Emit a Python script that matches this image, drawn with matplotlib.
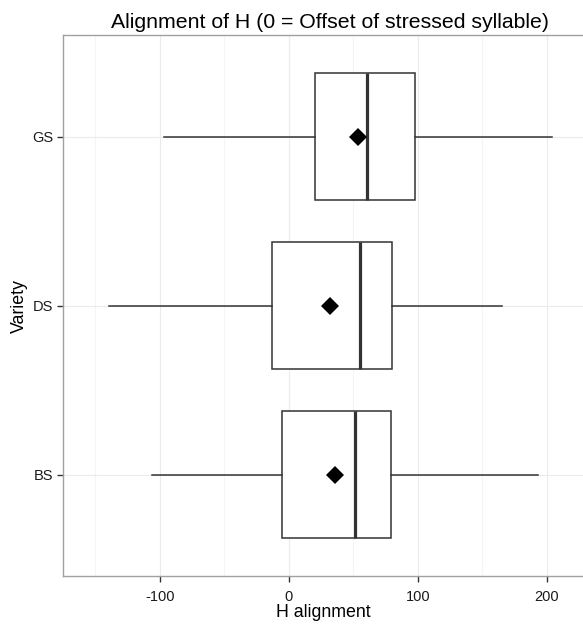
import matplotlib.pyplot as plt
from matplotlib.ticker import FixedLocator

plt.rcParams['font.family'] = ['Liberation Sans', 'DejaVu Sans']

# -----------------------
# Data
# -----------------------
varieties = ["BS", "DS", "GS"]
whisker_lo = [-106, -139, -97]
q1 = [-5, -13, 20]
median = [51, 55, 61]
q3 = [79, 80, 98]
whisker_hi = [193, 165, 204]
means = [36, 32, 54]

# -----------------------
# Figure
# -----------------------
fig = plt.figure(figsize=(5.83, 6.25), dpi=100)
ax = fig.add_axes([63.3 / 583, (625 - 576) / 625, 1 - 63.3 / 583, (576 - 35.3) / 625])

line_col = "#333333"
pos = list(range(1, len(varieties) + 1))

stats = []
for i, v in enumerate(varieties):
    stats.append({"label": v, "whislo": whisker_lo[i], "q1": q1[i], "med": median[i],
                  "q3": q3[i], "whishi": whisker_hi[i], "fliers": []})

ax.bxp(stats, positions=pos, widths=0.75, vert=False, showcaps=False,
       patch_artist=True, zorder=3,
       boxprops=dict(facecolor="white", edgecolor=line_col, linewidth=1.1),
       whiskerprops=dict(color=line_col, linewidth=1.1),
       medianprops=dict(color=line_col, linewidth=2.3, solid_capstyle="butt"))

ax.plot(means, pos, linestyle="none", marker="D", markersize=9.6,
        markerfacecolor="black", markeredgewidth=0, zorder=4)

ax.set_xlim(-174.8, (583 - 288.8) / 1.29)
ax.set_ylim(0.4, 3.6)
ax.set_yticks(pos)
ax.set_yticklabels(varieties)
ax.set_xticks([-100, 0, 100, 200])
ax.set_xticklabels(["-100", "0", "100", "200"])
ax.xaxis.set_minor_locator(FixedLocator([-150, -50, 50, 150, 250]))

ax.grid(True, which="major", color="#ebebeb", linewidth=0.8, zorder=0)
ax.grid(True, which="minor", axis="x", color="#f5f5f5", linewidth=0.8, zorder=0)
ax.set_axisbelow(True)

for s in ["left", "top", "bottom"]:
    ax.spines[s].set_color("#a0a0a0")
    ax.spines[s].set_linewidth(1.0)
ax.spines["right"].set_visible(False)

ax.tick_params(axis="both", which="major", length=4, width=1.0, color="#333333",
               labelsize=10.5, labelcolor="#1a1a1a")
ax.tick_params(axis="x", which="major", pad=6)
ax.tick_params(axis="y", which="major", pad=3)
ax.tick_params(axis="x", which="minor", length=0)

ax.set_xlabel("H alignment", fontsize=12.8, labelpad=0)
ax.set_ylabel("Variety", fontsize=12.8, labelpad=3)
fig.text(330 / 583, 1 - 23 / 625, "Alignment of H (0 = Offset of stressed syllable)",
         ha="center", va="center", fontsize=15.3)

fig.savefig("out.png", dpi=100)
